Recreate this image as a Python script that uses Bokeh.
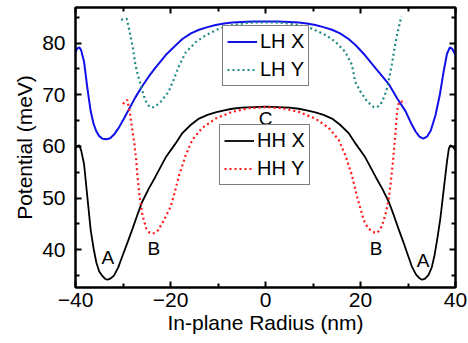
from bokeh.plotting import figure
from bokeh.models import (Legend, LegendItem, LinearAxis, FixedTicker, Range1d, Label,
                          CustomLabelingPolicy)
from bokeh.embed import file_html
from bokeh.resources import INLINE

# ---- data ----
lhx_x = [-40, -39.6, -39.2, -38.8, -38.2, -37.5, -36.8, -36.2, -35.6, -35.0, -34.3, -33.5, -32.7, -31.9,
         -30.9, -29.8, -28.8, -27.4, -26.0, -24.6, -23.2, -21.0, -19.0, -17.5, -15.7, -14.0, -12.2, -10.5,
         -8.7, -7.0, -5.0, -2.5, 0, 2.5, 5.0, 7.0, 8.7, 10.5, 12.2, 14.0, 15.7, 17.5, 19.0, 21.0, 23.2,
         26.0, 27.8, 29.5, 30.6, 31.6, 32.4, 33.2, 34.0, 34.8, 35.8, 36.7, 37.5, 38.2, 38.8, 39.3, 40]
lhx_y = [78.3, 79.0, 79.2, 78.6, 76.4, 71.3, 66.8, 64.4, 62.9, 62.0, 61.5, 61.4, 61.6, 62.3,
         63.6, 65.4, 67.1, 69.5, 71.6, 73.5, 75.2, 77.7, 79.5, 80.8, 81.9, 82.6, 83.1, 83.5,
         83.8, 84.0, 84.1, 84.2, 84.2, 84.2, 84.1, 84.0, 83.8, 83.5, 83.1, 82.6, 81.9, 80.8, 79.6, 77.6, 75.1,
         72.0, 69.2, 66.8, 64.6, 62.9, 61.9, 61.5, 61.9, 63.1, 66.1, 70.0, 74.5, 77.9, 79.2, 78.9, 77.7]

lhy_x = [-30.4, -29.8, -29.2, -28.6, -27.9, -27.4, -26.8, -26.3, -25.3, -24.6, -24.0, -23.2, -21.9, -20.4,
         -19.3, -18.2, -16.8, -14.7, -12.6, -9.8, -7.0, -4.0, -2.0, 0, 2.0, 4.0, 7.0, 9.8, 12.6, 14.7, 16.8,
         18.2, 18.9, 20.0, 21.4, 22.8, 23.5, 24.2, 25.0, 25.6, 26.2, 26.7, 27.4, 28.0, 28.6]
lhy_y = [84.5, 84.7, 84.7, 82.2, 79.0, 75.8, 73.6, 71.9, 68.9, 67.9, 67.5, 67.7, 68.8, 70.6,
         73.0, 75.6, 78.2, 80.2, 81.5, 82.8, 83.5, 83.9, 84.0, 84.0, 84.0, 83.9, 83.5, 82.8, 81.6, 80.3, 78.3,
         75.8, 72.5, 70.6, 68.7, 67.6, 67.6, 68.1, 69.6, 71.3, 74.0, 76.4, 80.3, 82.8, 85.2]

hhx_x = [-40, -39.6, -39.2, -38.8, -38.2, -37.5, -36.8, -36.2, -35.6, -35.0, -34.4, -33.8, -33.3, -32.7,
         -31.9, -31.0, -30.2, -29.1, -28.1, -27.0, -26.0, -24.6, -23.2, -21.0, -19.0, -17.5, -15.7, -14.0,
         -12.2, -10.5, -8.7, -7.0, -5.0, -2.5, 0, 2.5, 5.0, 7.0, 8.7, 10.5, 12.2, 14.0, 15.7, 17.5, 19.0,
         21.0, 23.2, 24.6, 26.0, 27.0, 28.1, 29.1, 30.0, 30.8, 31.7, 32.4, 33.0, 33.6, 34.3, 35.0, 35.6,
         36.2, 36.8, 37.5, 38.2, 38.6, 38.9, 39.4, 40]
hhx_y = [59.6, 60.1, 60.2, 59.2, 56.6, 50.2, 43.8, 40.3, 37.5, 35.8, 35.0, 34.4, 34.2, 34.4,
         35.0, 36.6, 38.6, 41.3, 43.8, 46.7, 49.2, 51.8, 54.1, 57.9, 60.5, 62.6, 64.2, 65.4,
         66.1, 66.6, 67.0, 67.3, 67.5, 67.6, 67.7, 67.6, 67.5, 67.3, 67.0, 66.6, 66.1, 65.4, 64.2, 62.6, 60.5,
         57.9, 54.1, 51.8, 49.2, 46.7, 43.8, 41.3, 38.9, 36.8, 35.2, 34.5, 34.2, 34.4, 35.1, 36.6, 39.0,
         42.3, 46.0, 51.5, 57.0, 59.6, 60.2, 60.0, 59.3]

hhy_x = [-30.0, -29.5, -29.1, -28.6, -28.1, -27.6, -27.2, -27.0, -26.5, -25.9, -25.1, -24.4, -23.9, -23.2,
         -22.6, -21.4, -20.0, -19.2, -18.2, -16.8, -15.4, -13.3, -10.5, -7.0, -3.5, 0, 3.5, 7.0, 10.5, 13.3,
         15.4, 16.8, 18.2, 19.3, 20.7, 21.5, 22.1, 23.0, 23.5, 24.2, 24.9, 25.5, 26.0, 26.4, 26.8, 27.4,
         27.7, 28.0, 28.4, 29.5]
hhy_y = [68.2, 68.8, 69.0, 66.8, 63.6, 60.5, 57.2, 54.7, 50.2, 46.7, 44.1, 43.3, 43.1, 43.3,
         43.8, 45.7, 48.3, 50.8, 54.4, 58.3, 61.3, 63.6, 65.4, 66.7, 67.4, 67.6, 67.4, 66.7, 65.4, 63.6,
         61.3, 58.3, 54.4, 50.2, 45.7, 44.3, 43.8, 43.3, 43.3, 44.0, 45.7, 47.8, 50.2, 53.3, 56.7, 63.1,
         66.8, 68.2, 68.8, 68.4]

x_ticks = [-40, -20, 0, 20, 40]
x_minor = [-30, -10, 10, 30]
y_ticks = [40, 50, 60, 70, 80]
y_minor = [35, 45, 55, 65, 75, 85]

ann_text = ["A", "B", "C", "B", "A"]
ann_x = [-33.2, -23.5, 0.0, 23.3, 33.2]
ann_y = [38.6, 40.2, 65.4, 40.2, 38.0]

FONT = "Liberation Sans"

p = figure(width=468, height=343, output_backend="svg", toolbar_location=None,
           x_range=Range1d(-40, 40), y_range=Range1d(32.7, 86.9),
           min_border_left=75, min_border_right=13, min_border_top=7, min_border_bottom=56)
p.background_fill_color = "white"
p.border_fill_color = "white"
p.grid.visible = False
p.outline_line_color = "black"
p.outline_line_width = 2

no_labels = CustomLabelingPolicy(code="""
    for (const i of Array.from(indices)) indices.unset(i)
    return indices
""")

def style_axis(ax, show_labels):
    ax.axis_line_width = 2
    ax.axis_line_color = "black"
    ax.major_tick_in = 6
    ax.major_tick_out = 0
    ax.minor_tick_in = 4
    ax.minor_tick_out = 0
    ax.major_tick_line_width = 2
    ax.minor_tick_line_width = 2
    ax.major_tick_line_color = "black"
    ax.minor_tick_line_color = "black"
    if show_labels:
        ax.major_label_text_font = FONT
        ax.major_label_text_font_size = "21px"
        ax.major_label_text_color = "black"
        ax.axis_label_text_font = FONT
        ax.axis_label_text_font_size = "21px"
        ax.axis_label_text_font_style = "normal"
        ax.axis_label_text_color = "black"
    else:
        ax.major_label_text_font_size = "1px"
        ax.major_label_standoff = 0
        ax.major_label_policy = no_labels

p.xaxis.ticker = FixedTicker(ticks=x_ticks, minor_ticks=x_minor)
p.yaxis.ticker = FixedTicker(ticks=y_ticks, minor_ticks=y_minor)
p.xaxis.axis_label = "In-plane Radius (nm)"
p.yaxis.axis_label = "Potential (meV)"
style_axis(p.xaxis[0], True)
style_axis(p.yaxis[0], True)
p.xaxis.major_label_standoff = 5
p.xaxis.axis_label_standoff = 1
p.yaxis.major_label_standoff = 10
p.yaxis.axis_label_standoff = 3

top_ax = LinearAxis(ticker=FixedTicker(ticks=x_ticks, minor_ticks=x_minor))
right_ax = LinearAxis(ticker=FixedTicker(ticks=y_ticks, minor_ticks=y_minor))
style_axis(top_ax, False)
style_axis(right_ax, False)
p.add_layout(top_ax, "above")
p.add_layout(right_ax, "right")

r_lhx = p.line(lhx_x, lhx_y, line_color="#1010e8", line_width=2)
r_lhy = p.line(lhy_x, lhy_y, line_color="#1f8a84", line_width=2.2, line_dash="2 3")
r_hhx = p.line(hhx_x, hhx_y, line_color="black", line_width=1.8)
r_hhy = p.line(hhy_x, hhy_y, line_color="#ff1a1a", line_width=2.2, line_dash="2 3")

for t, xx, yy in zip(ann_text, ann_x, ann_y):
    p.add_layout(Label(x=xx, y=yy, text=t, text_font=FONT, text_font_size="19px",
                       text_align="center", text_baseline="middle", text_color="black"))

def make_legend(items, loc):
    lg = Legend(items=items, location=loc, orientation="vertical")
    lg.label_text_font = FONT
    lg.label_text_font_size = "20px"
    lg.label_text_color = "black"
    lg.label_height = 19
    lg.glyph_height = 19
    lg.glyph_width = 30
    lg.label_standoff = 3
    lg.spacing = 5
    lg.padding = 4
    lg.margin = 0
    lg.border_line_color = "black"
    lg.border_line_width = 1.5
    lg.background_fill_alpha = 1
    return lg

leg1 = make_legend([LegendItem(label="LH X", renderers=[r_lhx]),
                    LegendItem(label="LH Y", renderers=[r_lhy])], (147, 201))
leg2 = make_legend([LegendItem(label="HH X", renderers=[r_hhx]),
                    LegendItem(label="HH Y", renderers=[r_hhy])], (144, 102))
p.add_layout(leg1, "center")
p.add_layout(leg2, "center")

open("out.html", "w").write(file_html(p, INLINE))
